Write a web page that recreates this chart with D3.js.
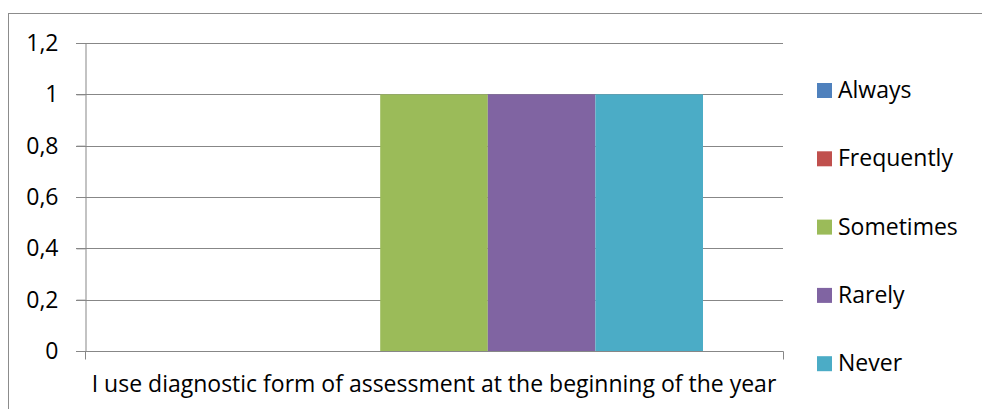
<!DOCTYPE html>
<html>
<head>
<meta charset="utf-8">
<script src="https://cdn.jsdelivr.net/npm/d3@7"></script>
<style>
  html, body { margin: 0; padding: 0; background: #fff; }
  svg { display: block; }
  text { font-family: "Open Sans", "Liberation Sans", sans-serif; fill: #000; }
</style>
</head>
<body>
<svg id="chart" width="982" height="409"></svg>
<script>
// Survey responses for a single statement
const categories = ["I use diagnostic form of assessment at the beginning of the year"];
const seriesNames = ["Always", "Frequently", "Sometimes", "Rarely", "Never"];
const seriesValues = [0, 0, 1, 1, 1];
const seriesColors = ["#4F81BD", "#C0504D", "#9BBB59", "#8064A2", "#4BACC6"];
const yTicks = [0, 0.2, 0.4, 0.6, 0.8, 1, 1.2];

const svg = d3.select("#chart");
const W = 982, H = 409;

// outer chart frame (runs off the right and bottom edges)
svg.append("rect")
  .attr("x", 8.5).attr("y", 13.5)
  .attr("width", W).attr("height", H)
  .attr("fill", "none").attr("stroke", "#8c8c8c").attr("stroke-width", 1);

const plot = { left: 85, right: 783, top: 43, bottom: 351 };

const locale = d3.formatLocale({ decimal: ",", thousands: ".", grouping: [3], currency: ["", ""] });
const fmt = locale.format("~g");

const y = d3.scaleLinear().domain([0, 1.2]).range([plot.bottom, plot.top]);
const x0 = d3.scaleBand().domain(categories).range([plot.left, plot.right])
  .paddingInner(0).paddingOuter(0.1487);
const x1 = d3.scaleBand().domain(seriesNames).range([0, x0.bandwidth()]).padding(0);

// horizontal gridlines
svg.append("g")
  .selectAll("line")
  .data(yTicks.filter(d => d > 0))
  .join("line")
  .attr("x1", plot.left - 9).attr("x2", plot.right)
  .attr("y1", d => Math.round(y(d)) + 0.5).attr("y2", d => Math.round(y(d)) + 0.5)
  .attr("stroke", "#878787").attr("stroke-width", 1);

// bars
const group = svg.append("g")
  .attr("transform", `translate(${x0(categories[0])},0)`);
group.selectAll("rect")
  .data(seriesNames.map((name, i) => ({ name, value: seriesValues[i], color: seriesColors[i] })))
  .join("rect")
  .attr("x", d => x1(d.name))
  .attr("y", d => y(d.value))
  .attr("width", x1.bandwidth())
  .attr("height", d => y(0) - y(d.value))
  .attr("fill", d => d.color);

// y axis
const yAxis = svg.append("g")
  .attr("transform", `translate(${plot.left + 0.5},0)`)
  .call(d3.axisLeft(y).tickValues(yTicks).tickFormat(fmt).tickSize(9).tickSizeOuter(0));
yAxis.select(".domain").attr("stroke", "#878787");
yAxis.selectAll(".tick line").attr("stroke", "#878787");
yAxis.selectAll(".tick text")
  .attr("x", -27)
  .style("font-size", "23px")
  .style("font-family", "'Open Sans', sans-serif");

// x axis
const xAxis = svg.append("g")
  .attr("transform", `translate(0,${Math.round(y(0)) + 0.5})`);
xAxis.append("line")
  .attr("x1", plot.left - 9).attr("x2", plot.right + 0.5)
  .attr("stroke", "#878787");
xAxis.selectAll("line.edge")
  .data([plot.left + 0.5, plot.right + 0.5])
  .join("line")
  .attr("class", "edge")
  .attr("x1", d => d).attr("x2", d => d)
  .attr("y1", 0).attr("y2", 8)
  .attr("stroke", "#878787");
xAxis.append("text")
  .attr("x", x0(categories[0]) + x0.bandwidth() / 2)
  .attr("y", 40)
  .attr("text-anchor", "middle")
  .style("font-size", "23px")
  .text(categories[0]);

// legend
const legend = svg.append("g");
const items = legend.selectAll("g")
  .data(seriesNames)
  .join("g")
  .attr("transform", (d, i) => `translate(817,${90 + i * 68.3})`);
items.append("rect")
  .attr("x", 0).attr("y", -7)
  .attr("width", 15).attr("height", 15)
  .attr("fill", (d, i) => seriesColors[i]);
items.append("text")
  .attr("x", 21).attr("y", 0)
  .attr("dy", "0.35em")
  .style("font-size", "23px")
  .text(d => d);
</script>
</body>
</html>
